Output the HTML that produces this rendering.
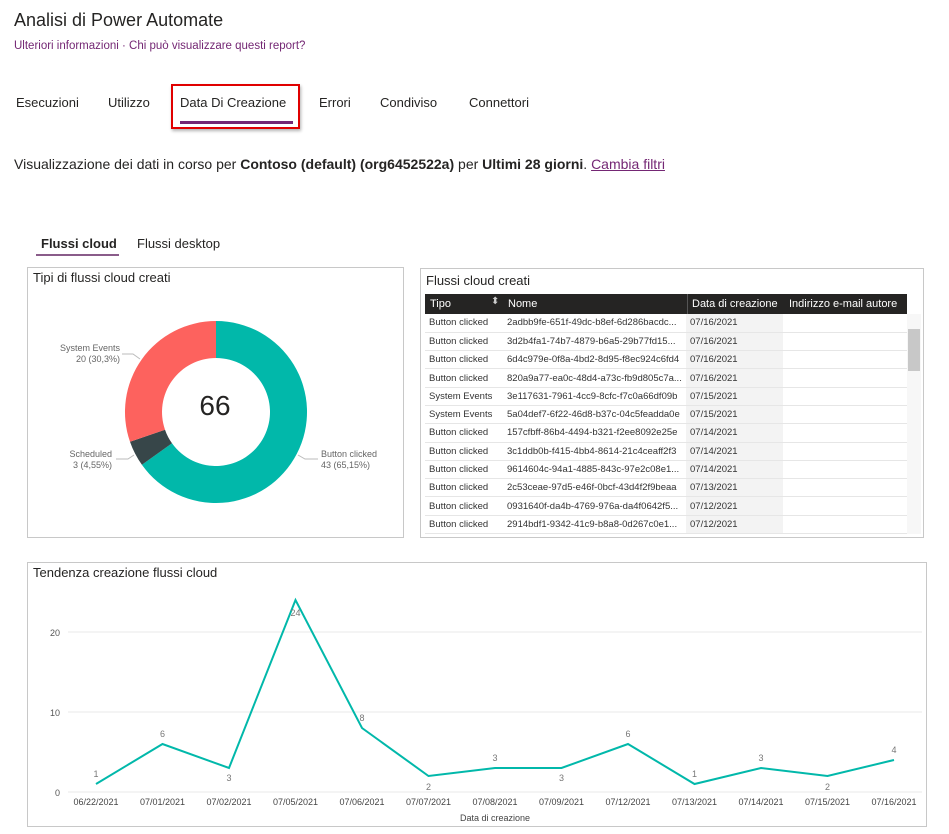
<!DOCTYPE html>
<html><head><meta charset="utf-8"><style>
*{margin:0;padding:0;box-sizing:border-box}
body{width:949px;height:834px;background:#fff;font-family:"Liberation Sans","DejaVu Sans",sans-serif;color:#252423;position:relative;overflow:hidden}
.a{position:absolute;white-space:nowrap}
.panel{position:absolute;border:1px solid #c8c8c8;background:#fff}
table{border-collapse:collapse;font-size:9.5px;color:#333}
td{height:18.3px;padding:0 4px;border-bottom:1px solid #e6e6e6;overflow:hidden;white-space:nowrap}
.nav{font-size:13px;top:95px}
</style></head><body>
<div class="a" style="left:14px;top:10px;font-size:18px;color:#252423">Analisi di Power Automate</div>
<div class="a" style="left:14px;top:40px;font-size:11.5px;color:#742774">Ulteriori informazioni · Chi può visualizzare questi report?</div>
<div class="a nav" style="left:16px">Esecuzioni</div>
<div class="a nav" style="left:108px">Utilizzo</div>
<div class="a nav" style="left:180px">Data Di Creazione</div>
<div class="a" style="left:180px;top:121px;width:113px;height:3px;background:#742774"></div>
<div class="a" style="left:171px;top:84px;width:129px;height:45px;border:2px solid #e00000;box-shadow:1px 2px 3px rgba(0,0,0,.3)"></div>
<div class="a nav" style="left:319px">Errori</div>
<div class="a nav" style="left:380px">Condiviso</div>
<div class="a nav" style="left:469px">Connettori</div>
<div class="a" style="left:14px;top:156px;font-size:14px">Visualizzazione dei dati in corso per <b>Contoso (default) (org6452522a)</b> per <b>Ultimi 28 giorni</b>. <span style="color:#742774;text-decoration:underline">Cambia filtri</span></div>
<div class="a" style="left:41px;top:236px;font-size:13px;font-weight:bold">Flussi cloud</div>
<div class="a" style="left:36px;top:254px;width:83px;height:2px;background:#8a5c8a"></div>
<div class="a" style="left:137px;top:236px;font-size:13px">Flussi desktop</div>

<div class="panel" style="left:27px;top:267px;width:377px;height:271px"></div>
<div class="a" style="left:33px;top:270px;font-size:13px">Tipi di flussi cloud creati</div>
<svg class="a" style="left:0;top:0" width="949" height="834">
<path d="M216 321 A91 91 0 1 1 141.9 464.8 L172 443.3 A54 54 0 1 0 216 358 Z" fill="#01b8aa"/>
<path d="M141.9 464.8 A91 91 0 0 1 130 441.8 L165 429.7 A54 54 0 0 0 172 443.3 Z" fill="#374649"/>
<path d="M130 441.8 A91 91 0 0 1 216 321 L216 358 A54 54 0 0 0 165 429.7 Z" fill="#fd625e"/>
<g stroke="#bbb" fill="none"><path d="M122 354 L133 354 L140 359"/><path d="M116 459 L128 459 L134 455"/><path d="M318 459 L305 459 L298 455"/></g>
<g font-size="9" fill="#666" font-family="Liberation Sans,sans-serif">
<text x="120" y="351" text-anchor="end">System Events</text><text x="120" y="362" text-anchor="end">20 (30,3%)</text>
<text x="112" y="457" text-anchor="end">Scheduled</text><text x="112" y="468" text-anchor="end">3 (4,55%)</text>
<text x="321" y="457">Button clicked</text><text x="321" y="468">43 (65,15%)</text>
</g>
<text x="215" y="415" font-size="28" text-anchor="middle" fill="#252423" font-family="Liberation Sans,sans-serif">66</text>
</svg>

<div class="panel" style="left:420px;top:268px;width:504px;height:270px"></div>
<div class="a" style="left:426px;top:273px;font-size:13px">Flussi cloud creati</div>
<div class="a" style="left:425px;top:294px;width:482px;height:20px;background:#252423"></div>
<div class="a" style="left:430px;top:298px;font-size:11px;color:#fff">Tipo</div>
<div class="a" style="left:491px;top:296px;font-size:10px;color:#ccc">⬍</div>
<div class="a" style="left:508px;top:298px;font-size:11px;color:#fff">Nome</div>
<div class="a" style="left:687px;top:294px;width:1px;height:20px;background:#555"></div>
<div class="a" style="left:692px;top:298px;font-size:11px;color:#fff">Data di creazione</div>
<div class="a" style="left:789px;top:298px;font-size:11px;color:#fff">Indirizzo e-mail autore</div>
<div class="a" style="left:686px;top:314px;width:97px;height:220px;background:#f3f3f3"></div>
<div class="a" style="left:907px;top:314px;width:14px;height:220px;background:#f7f7f7"></div>
<div class="a" style="left:908px;top:329px;width:12px;height:42px;background:#c8c8c8"></div>
<table class="a" style="left:425px;top:314px;width:482px;table-layout:fixed">
<colgroup><col style="width:78px"><col style="width:183px"><col style="width:97px"><col></colgroup>
<tr><td>Button clicked</td><td>2adbb9fe-651f-49dc-b8ef-6d286bacdc...</td><td>07/16/2021</td><td></td></tr>
<tr><td>Button clicked</td><td>3d2b4fa1-74b7-4879-b6a5-29b77fd15...</td><td>07/16/2021</td><td></td></tr>
<tr><td>Button clicked</td><td>6d4c979e-0f8a-4bd2-8d95-f8ec924c6fd4</td><td>07/16/2021</td><td></td></tr>
<tr><td>Button clicked</td><td>820a9a77-ea0c-48d4-a73c-fb9d805c7a...</td><td>07/16/2021</td><td></td></tr>
<tr><td>System Events</td><td>3e117631-7961-4cc9-8cfc-f7c0a66df09b</td><td>07/15/2021</td><td></td></tr>
<tr><td>System Events</td><td>5a04def7-6f22-46d8-b37c-04c5feadda0e</td><td>07/15/2021</td><td></td></tr>
<tr><td>Button clicked</td><td>157cfbff-86b4-4494-b321-f2ee8092e25e</td><td>07/14/2021</td><td></td></tr>
<tr><td>Button clicked</td><td>3c1ddb0b-f415-4bb4-8614-21c4ceaff2f3</td><td>07/14/2021</td><td></td></tr>
<tr><td>Button clicked</td><td>9614604c-94a1-4885-843c-97e2c08e1...</td><td>07/14/2021</td><td></td></tr>
<tr><td>Button clicked</td><td>2c53ceae-97d5-e46f-0bcf-43d4f2f9beaa</td><td>07/13/2021</td><td></td></tr>
<tr><td>Button clicked</td><td>0931640f-da4b-4769-976a-da4f0642f5...</td><td>07/12/2021</td><td></td></tr>
<tr><td>Button clicked</td><td>2914bdf1-9342-41c9-b8a8-0d267c0e1...</td><td>07/12/2021</td><td></td></tr>
</table>

<div class="panel" style="left:27px;top:562px;width:900px;height:265px"></div>
<div class="a" style="left:33px;top:565px;font-size:13px">Tendenza creazione flussi cloud</div>
<svg class="a" style="left:0;top:0" width="949" height="834" font-family="Liberation Sans,sans-serif">
<g stroke="#eaeaea"><line x1="68" y1="632" x2="922" y2="632"/><line x1="68" y1="712" x2="922" y2="712"/><line x1="68" y1="792" x2="922" y2="792"/></g>
<g font-size="9" fill="#555" text-anchor="end"><text x="60" y="636">20</text><text x="60" y="716">10</text><text x="60" y="796">0</text></g>
<polyline fill="none" stroke="#01b8aa" stroke-width="2" points="96,784 162.5,744 229,768 295.5,600 362,728 428.5,776 495,768 561.5,768 628,744 694.5,784 761,768 827.5,776 894,760"/>
<g font-size="9" fill="#777" text-anchor="middle">
<text x="96" y="777">1</text><text x="162.5" y="737">6</text><text x="229" y="781">3</text><text x="295.5" y="616">24</text><text x="362" y="721">8</text><text x="428.5" y="790">2</text><text x="495" y="761">3</text><text x="561.5" y="781">3</text><text x="628" y="737">6</text><text x="694.5" y="777">1</text><text x="761" y="761">3</text><text x="827.5" y="790">2</text><text x="894" y="753">4</text>
</g>
<g font-size="9" fill="#444" text-anchor="middle">
<text x="96" y="805">06/22/2021</text><text x="162.5" y="805">07/01/2021</text><text x="229" y="805">07/02/2021</text><text x="295.5" y="805">07/05/2021</text><text x="362" y="805">07/06/2021</text><text x="428.5" y="805">07/07/2021</text><text x="495" y="805">07/08/2021</text><text x="561.5" y="805">07/09/2021</text><text x="628" y="805">07/12/2021</text><text x="694.5" y="805">07/13/2021</text><text x="761" y="805">07/14/2021</text><text x="827.5" y="805">07/15/2021</text><text x="894" y="805">07/16/2021</text>
<text x="495" y="821">Data di creazione</text>
</g>
</svg>
</body></html>
